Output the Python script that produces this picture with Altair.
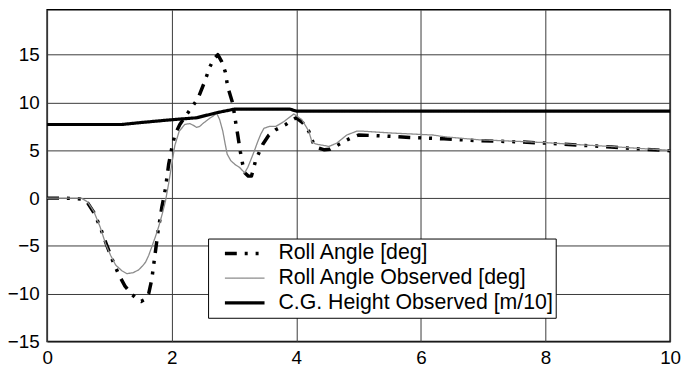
import altair as alt
import pandas as pd

# Roll Angle [deg]
roll_x = [0, 0.3, 0.55, 0.65, 0.75, 0.85, 0.95, 1.05, 1.15, 1.25, 1.35, 1.45, 1.51, 1.57, 1.63,
          1.68, 1.73, 1.78, 1.84, 1.9, 1.95, 2.0, 2.05, 2.13, 2.29, 2.42, 2.53, 2.61, 2.68, 2.74,
          2.8, 2.86, 2.9, 2.98, 3.02, 3.06, 3.10, 3.14, 3.18, 3.23, 3.28, 3.35, 3.46, 3.56, 3.67,
          3.83, 3.92, 4.0, 4.1, 4.2, 4.27, 4.33, 4.45, 4.54, 4.65, 4.76, 4.88, 5.0, 5.4, 5.82,
          6.37, 6.93, 7.5, 8.0, 8.5, 9.05, 9.5, 10.0]
roll_y = [0, 0, -0.1, -0.5, -1.5, -3.0, -4.8, -6.5, -8.0, -9.2, -10.0, -10.6, -10.8, -10.6, -10.0,
          -8.5, -6.0, -3.5, -1.0, 1.0, 3.5, 5.2, 6.6, 7.7, 9.2, 10.4, 12.2, 13.7, 14.6, 15.0,
          14.3, 13.2, 11.6, 9.9, 8.2, 6.6, 4.9, 3.5, 2.6, 2.3, 2.3, 4.0, 5.6, 6.6, 7.15,
          7.7, 8.1, 8.4, 7.9, 7.0, 5.8, 5.3, 5.05, 5.1, 5.5, 5.9, 6.3, 6.6, 6.5, 6.35,
          6.2, 6.0, 5.9, 5.75, 5.55, 5.35, 5.15, 4.95]

# Roll Angle Observed [deg]
obs_x = [0, 0.55, 0.65, 0.75, 0.85, 0.94, 1.02, 1.1, 1.2, 1.28, 1.38, 1.47, 1.53, 1.58, 1.63,
         1.68, 1.74, 1.79, 1.85, 1.9, 1.95, 2.0, 2.05, 2.12, 2.21, 2.29, 2.35, 2.4, 2.45, 2.5,
         2.6, 2.69, 2.72, 2.77, 2.82, 2.86, 2.89, 2.95, 3.02, 3.09, 3.17, 3.22, 3.27, 3.33, 3.38,
         3.43, 3.48, 3.57, 3.67, 3.8, 3.88, 3.96, 4.09, 4.2, 4.25, 4.3, 4.36, 4.45, 4.52, 4.65,
         4.81, 4.97, 5.07, 5.3, 5.55, 6.19, 6.4, 6.93, 7.5, 8.0, 8.5, 9.05, 9.5, 10.0]
obs_y = [0, 0, -0.4, -1.4, -3.0, -4.8, -6.0, -7.0, -7.6, -7.9, -7.8, -7.5, -7.1, -6.7, -6.0,
         -5.1, -4.0, -3.0, -1.6, -0.3, 1.5, 3.5, 5.5, 7.0, 7.7, 7.8, 7.6, 7.4, 7.5, 7.8,
         8.3, 8.7, 8.9, 8.2, 7.0, 5.6, 4.6, 3.9, 3.5, 3.2, 2.65, 3.2, 4.0, 5.0, 5.9,
         6.7, 7.3, 7.5, 7.5, 8.0, 8.4, 8.8, 8.2, 7.0, 5.9, 5.7, 5.6, 5.5, 5.4, 5.75,
         6.6, 7.0, 7.0, 6.9, 6.8, 6.6, 6.4, 6.1, 5.95, 5.8, 5.6, 5.4, 5.2, 5.0]

# C.G. Height Observed [m/10]
cg_x = [0, 1.2, 1.5, 2.0, 2.4, 2.7, 3.0, 3.9, 4.0, 10.0]
cg_y = [7.7, 7.7, 7.9, 8.2, 8.4, 8.9, 9.3, 9.3, 9.1, 9.1]

series = ["Roll Angle [deg]", "Roll Angle Observed [deg]", "C.G. Height Observed [m/10]"]
x_ticks = [0, 2, 4, 6, 8, 10]
y_ticks = [-15, -10, -5, 0, 5, 10, 15]

rows = []
for name, xs, ys in [(series[0], roll_x, roll_y), (series[1], obs_x, obs_y), (series[2], cg_x, cg_y)]:
    for i, (a, b) in enumerate(zip(xs, ys)):
        rows.append({"series": name, "t": a, "v": b, "order": i})
df = pd.DataFrame(rows)

FONT = "Liberation Sans"

chart = alt.Chart(df).mark_line(strokeCap="butt", strokeJoin="round").encode(
    x=alt.X("t:Q", scale=alt.Scale(domain=[0, 10], nice=False, zero=False),
            axis=alt.Axis(values=x_ticks, title=None, grid=True, ticks=False, domain=False,
                          labelFontSize=19, labelPadding=7, labelFlush=False,
                          gridColor="#3a3a3a", gridOpacity=1, gridWidth=1,
                          labelFont=FONT, labelColor="#000")),
    y=alt.Y("v:Q", scale=alt.Scale(domain=[-15, 19.7], nice=False, zero=False),
            axis=alt.Axis(values=y_ticks, title=None, grid=True, ticks=False, domain=False,
                          labelFontSize=19, labelPadding=8,
                          gridColor="#3a3a3a", gridOpacity=1, gridWidth=1,
                          labelFont=FONT, labelColor="#000")),
    color=alt.Color("series:N", scale=alt.Scale(domain=series, range=["#000000", "#8c8c8c", "#000000"]),
                    legend=alt.Legend(title=None,
                                      orient="none", legendX=162.5, legendY=231,
                                      symbolType="stroke", symbolSize=1600, symbolOffset=12.5,
                                      clipHeight=25,
                                      labelFontSize=21.5, labelFont=FONT, labelColor="#000",
                                      fillColor="white", strokeColor="#000",
                                      padding=2.5, rowPadding=0, labelOffset=12,
                                      labelLimit=500)),
    strokeDash=alt.StrokeDash("series:N", scale=alt.Scale(type="ordinal", domain=series,
                              range=[[12, 8, 3, 8, 3, 8], [1, 0], [1, 0]]),
                              legend=alt.Legend(title=None)),
    strokeWidth=alt.StrokeWidth("series:N", scale=alt.Scale(type="ordinal", domain=series,
                                range=[3.5, 1.3, 3.2]),
                                legend=alt.Legend(title=None)),
    order="order:Q",
    detail="series:N",
).properties(
    width=629, height=335,
    autosize=alt.AutoSizeParams(type="none"),
    padding={"left": 39.5, "top": 0, "right": 12, "bottom": 30},
    background="white",
).configure_view(
    stroke="#000", strokeWidth=1.5
)

chart.save("out.html", embed_options={"renderer": "svg", "actions": False})
